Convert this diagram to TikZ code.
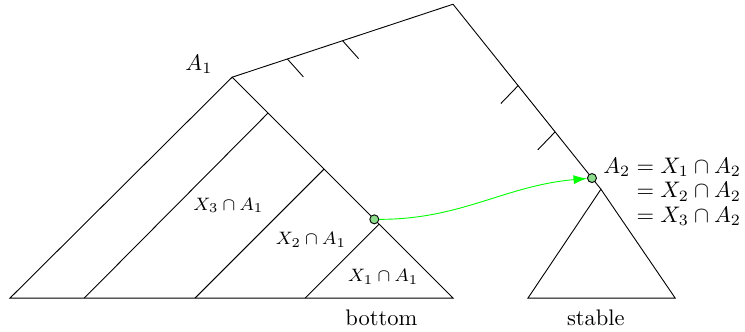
\documentclass[tikz,border=0pt]{standalone}
\usepackage{amsmath,amssymb}
\usetikzlibrary{arrows.meta,calc,positioning}
\definecolor{dotgreen}{RGB}{140,220,140}

\begin{document}
\begin{tikzpicture}[
		dot/.style={circle, draw, fill=dotgreen, inner sep=0pt, minimum size=4pt},
		flow/.style={-{Latex[length=6pt,width=4pt]}, green},
		slab/.style={font=\footnotesize},
		blab/.style={font=\normalsize}
	]
		\useasboundingbox (-0.156,-0.516) rectangle (11.48,4.656);
		\coordinate (bl) at (0,0);
		\coordinate (br) at (6.92,0);
		\coordinate (a1) at (3.47,3.45);
		\coordinate (top) at (6.92,4.59);
		\coordinate (sl) at (8.09,0);
		\coordinate (sr) at (10.39,0);
		\coordinate (s) at (9.23,1.70);
		\draw (bl) -- (a1) -- (br) -- cycle;
		\draw (1.16,0) -- (4.03,2.89);
		\draw (2.89,0) -- (4.905,2.015);
		\draw (4.61,0) -- (5.765,1.155);
		\draw (a1) -- (top) -- (s);
		\draw (sl) -- (s) -- (sr) -- cycle;
		\foreach \p in {0.25,0.5}
			\draw ($(a1)!\p!(top)$) -- ++(0.25,-0.28);
		\foreach \p in {0.44,0.69}
			\draw ($(top)!\p!(s)$) -- ++(-0.27,-0.28);
		\node[dot] (c1) at (5.69,1.23) {};
		\node[dot] (c2) at (9.09,1.875) {};
		\draw[flow] (c1) to[out=0, in=185] (c2);
		\node (la1) at (2.95,3.65) {$A_1$};
		\node[slab] (x3) at (3.41,1.45) {$X_3\cap A_1$};
		\node[slab] (x2) at (4.70,0.91) {$X_2\cap A_1$};
		\node[slab] (x1) at (5.83,0.33) {$X_1\cap A_1$};
		\node[blab] (bot) at (5.80,-0.31) {bottom};
		\node[blab] (stb) at (9.15,-0.31) {stable};
		\node[anchor=north west, align=right, inner sep=0pt] (eq) at (9.26,2.20)
			{$A_2 = X_1\cap A_2$\\[-1pt] $= X_2\cap A_2$\\[-1pt] $= X_3\cap A_2$};
	\end{tikzpicture}
\end{document}
